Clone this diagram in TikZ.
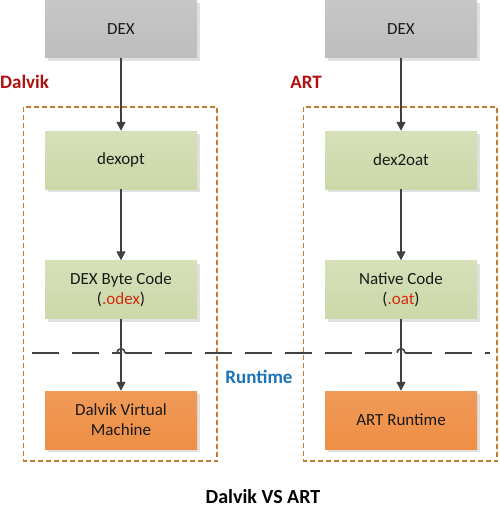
\documentclass[tikz,border=0pt]{standalone}
\usepackage{fontspec}
\setmainfont{Carlito}
\usetikzlibrary{arrows.meta,shadows}

\definecolor{dexgray}{HTML}{BDBDBD}
\definecolor{optgreen}{HTML}{CBD8A8}
\definecolor{vmorange}{HTML}{EE8F45}
\definecolor{framebrown}{HTML}{C47A30}
\definecolor{flowgray}{HTML}{404040}
\definecolor{labred}{HTML}{B01010}
\definecolor{labblue}{HTML}{1A73B8}
\definecolor{extred}{HTML}{D42A10}

\tikzset{
  box/.style={minimum width=152pt, minimum height=58pt, inner sep=0pt, align=center,
    font=\fontsize{17}{20}\selectfont, text=black!90,
    drop shadow={shadow xshift=3pt, shadow yshift=-3pt, fill=black!12, opacity=1}},
  dexbox/.style={box, top color=dexgray!85, bottom color=dexgray},
  optbox/.style={box, top color=optgreen!80, bottom color=optgreen},
  vmbox/.style={box, top color=vmorange!90, bottom color=vmorange},
  flow/.style={draw=flowgray, line width=1.6pt, -{Triangle[length=9pt,width=9pt]}},
  dashframe/.style={draw=framebrown, line width=1.2pt, dash pattern=on 5pt off 3pt},
  sepline/.style={draw=flowgray, line width=1.6pt, dash pattern=on 27pt off 13pt},
  hop/.style={draw=flowgray, line width=1.6pt},
  lbl/.style={font=\fontsize{19}{22}\selectfont\bfseries, inner sep=0pt}
}

\begin{document}
\begin{tikzpicture}[x=1pt,y=-1pt]

  \useasboundingbox (0,0) rectangle (500,511);

  \draw[dashframe] (23.5,107) rectangle (217,461);
  \draw[dashframe] (303.5,107) rectangle (497,461);

  \begin{scope}[every node/.style={box}]
    \node[dexbox] (dex1) at (121,29)  {DEX};
    \node[optbox] (opt1) at (121,160) {dexopt};
    \node[optbox] (code1) at (121,289.5) {DEX Byte Code\\(\textcolor{extred}{.odex})};
    \node[vmbox] (vm1) at (121,420) {Dalvik Virtual\\Machine};

    \node[dexbox] (dex2) at (401,29)  {DEX};
    \node[optbox] (opt2) at (401,160) {dex2oat};
    \node[optbox] (code2) at (401,289.5) {Native Code\\(\textcolor{extred}{.oat})};
    \node[vmbox] (vm2) at (401,420) {ART Runtime};
  \end{scope}

  \node[lbl, text=labred, anchor=west] (dalvik) at (0,82) {Dalvik};
  \node[lbl, text=labred] (art) at (306,82) {ART};
  \node[lbl, text=labblue] (runtime) at (259,377) {Runtime};
  \node[lbl, font=\fontsize{20}{24}\selectfont\bfseries, text=black] (title) at (263,497) {Dalvik VS ART};

  \coordinate (sepL) at (32,352.7);
  \coordinate (sepR) at (490,352.7);

  \draw[sepline] (sepL) -- (code1.south |- sepL) ++(-4,0) coordinate (hopA);
  \draw[hop] (hopA) arc[start angle=180, end angle=0, radius=4pt] coordinate (hopB);
  \draw[sepline] (hopB) -- ([xshift=-4pt]code2.south |- sepR) coordinate (hopC);
  \draw[hop] (hopC) arc[start angle=180, end angle=0, radius=4pt] coordinate (hopD);
  \draw[sepline] (hopD) -- (sepR);

  \draw[flow] (dex1) -- (opt1);
  \draw[flow] (opt1) -- (code1);
  \draw[flow] (code1) -- (vm1);
  \draw[flow] (dex2) -- (opt2);
  \draw[flow] (opt2) -- (code2);
  \draw[flow] (code2) -- (vm2);

\end{tikzpicture}
\end{document}
